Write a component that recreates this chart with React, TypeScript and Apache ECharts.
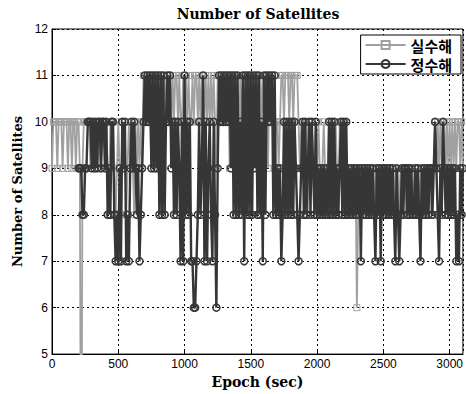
import { useEffect, useRef } from "react";
import * as echarts from "echarts";

// Epoch spacing of the samples below (seconds)
const EPOCH_STEP = 10;
const X_MAX = 3100;
const Y_MIN = 5;
const Y_MAX = 12;
const X_TICK = 500;

const SERIES_NAMES = ["실수해", "정수해"];

// 실수해 (float solution) – number of satellites, one value every 10 s (epoch 0 … 3100)
const floatSats: (number | null)[] = [
  9, 10, 10, 10, 9, 10, 10, 10, 9, 10,
  10, 10, 9, 10, 10, 9, 10, 10, 9, 10,
  10, 9, 0, 9, 10, 10, 10, 10, 10, 9,
  10, 10, 9, 10, 10, 9, 10, 9, 10, 10,
  9, 10, 9, 8, 10, 9, 10, 9, 8, 9,
  10, 9, 8, 10, 9, 10, 8, 9, 10, 9,
  10, 9, 8, 10, 9, 10, 9, 10, 9, 11,
  10, 11, 10, 11, 10, 9, 11, 10, 11, 10,
  11, 10, 9, 11, 10, 11, 10, 11, 10, 11,
  10, 11, 10, 11, 11, 10, 11, 10, 10, 11,
  10, 11, 10, 11, 10, 10, 11, 10, 11, 11,
  10, 11, 10, 11, 11, 10, 11, 10, 11, 10,
  11, 10, 11, 10, 9, 11, 10, 11, 10, 11,
  10, 11, 10, 11, 9, 11, 10, 11, 10, 11,
  10, 9, 11, 10, 11, 9, 10, 11, 10, 11,
  10, 11, 9, 10, 11, 10, 9, 11, 10, 11,
  10, 11, 10, 9, 11, 10, 11, 10, 9, 10,
  10, 9, 10, 11, 11, 10, 11, 11, 11, 10,
  11, 11, 10, 11, 11, 11, 10, 9, 10, 9,
  10, 9, 10, 8, 10, 9, 10, 9, 8, 10,
  9, 10, 9, 8, 9, 10, 9, 8, 9, 10,
  9, 8, 10, 9, 10, 9, 8, 10, 9, 10,
  9, 10, 9, 8, 9, 8, 9, 8, 8, 9,
  6, 8, 9, 8, 9, 8, 9, 8, 9, 8,
  9, 8, 9, 8, 9, 8, 9, 8, 9, 8,
  9, 8, 9, 9, 8, 9, 8, 9, 8, 9,
  8, 9, 8, 9, 8, 9, 9, 8, 9, 8,
  9, 8, 9, 8, 9, 8, 9, 8, 9, 8,
  9, 8, 9, 8, 9, 9, 8, 9, 9, 10,
  9, 10, 9, 10, 9, 10, 10, 9, 10, 9,
  10, 9, 10, 9, 10, 9, 10, 10, 9, 10,
  9,
];

// 정수해 (fixed / integer solution) – one value every 10 s, null = no fixed solution
const fixedSats: (number | null)[] = [
  null, null, null, null, null, null, null, null, null, null,
  null, null, null, null, null, null, null, null, null, null,
  9, 9, 9, 8, 8, 9, 9, 10, 10, 10,
  9, 10, 9, 10, 9, 10, 10, 9, 10, 10,
  9, 10, 8, 9, 8, 10, 10, 8, 7, 8,
  7, 9, 7, 10, 9, 10, 7, 8, 7, 9,
  10, 9, 10, 9, 8, 9, 7, 8, 9, 10,
  11, 10, 11, 10, 11, 9, 11, 9, 11, 9,
  11, 8, 11, 8, 11, 8, 10, 11, 10, 11,
  9, 10, 8, 10, 8, 10, 9, 7, 10, 7,
  11, 8, 10, 8, 10, 7, 7, 6, 6, 7,
  8, 10, 8, 9, 11, 7, 10, 7, 9, 10,
  8, 7, 10, 8, 6, 9, 11, 10, 11, 10,
  11, 10, 11, 10, 11, 9, 11, 8, 11, 8,
  11, 8, 10, 8, 11, 7, 11, 8, 11, 8,
  11, 8, 11, 9, 11, 8, 11, 8, 10, 7,
  11, 8, 11, 10, 11, 10, 11, 8, 11, 8,
  9, 8, 9, 7, 8, 10, 8, 10, 8, 10,
  8, 10, 8, 10, 9, 8, 7, 8, 9, 10,
  8, 10, 8, 9, 10, 8, 10, 9, 8, 10,
  8, 9, 8, 9, 8, 9, 8, 9, 8, 10,
  8, 10, 8, 10, 8, 9, 8, 9, 10, 8,
  10, 8, 10, 8, 9, 8, 9, 8, 9, 8,
  9, 8, 9, 7, 9, 8, 9, 8, 9, 8,
  9, 8, 9, 8, 7, 9, 8, 9, 7, 9,
  8, 9, 8, 9, 8, 9, 8, 9, 8, 7,
  9, 8, 7, 8, 9, 8, 9, 9, 8, 9,
  8, 9, 8, 8, 9, 8, 9, 8, 7, 9,
  8, 9, 8, 9, 8, 9, 9, 8, 9, 10,
  9, 8, 7, 9, 8, 10, 9, 8, 9, 8,
  9, 8, 9, 8, 9, 7, 8, 7, 9, 8,
  9,
];

const toPairs = (arr: (number | null)[]) =>
  arr.map((v, i) => [i * EPOCH_STEP, v]);

const FLOAT_COLOR = "#a0a0a0";
const FIXED_COLOR = "#363636";
const SERIF = "'DejaVu Serif', serif";
const SANS = "'Liberation Sans', Arial, sans-serif";

export default function App() {
  const ref = useRef<HTMLDivElement>(null);

  useEffect(() => {
    if (!ref.current) return;
    const chart = echarts.init(ref.current, null, { renderer: "svg" });
    chart.setOption({
      animation: false,
      backgroundColor: "#ffffff",
      title: {
        text: "Number of Satellites",
        left: 258,
        top: 7,
        textAlign: "center",
        padding: 0,
        textStyle: {
          fontFamily: SERIF,
          fontWeight: "bold",
          fontSize: 14,
          color: "#000",
        },
      },
      legend: {
        orient: "vertical",
        right: 5,
        top: 35,
        data: SERIES_NAMES,
        backgroundColor: "#ffffff",
        borderColor: "#000",
        borderWidth: 1,
        borderRadius: 0,
        padding: [2, 9, 2, 4],
        itemGap: 3,
        itemWidth: 40,
        itemHeight: 10,
        textStyle: {
          fontFamily: "'Noto Sans CJK KR', sans-serif",
          fontWeight: "bold",
          fontSize: 15,
          lineHeight: 16,
          color: "#000",
        },
      },
      grid: {
        left: 52,
        right: 1,
        top: 29,
        bottom: 39,
        show: true,
        borderColor: "#000",
        borderWidth: 1,
        backgroundColor: "#fff",
      },
      xAxis: {
        type: "value",
        min: 0,
        max: X_MAX,
        interval: X_TICK,
        name: "Epoch (sec)",
        nameLocation: "middle",
        nameGap: 20,
        nameTextStyle: {
          fontFamily: SERIF,
          fontWeight: "bold",
          fontSize: 14,
          color: "#000",
        },
        axisLine: { show: true, lineStyle: { color: "#000", width: 1 } },
        axisTick: { show: true, inside: true, length: 4, lineStyle: { color: "#000" } },
        axisLabel: {
          showMaxLabel: false,
          margin: 4,
          fontFamily: SANS,
          fontSize: 12,
          color: "#000",
          formatter: (v: number) => String(v),
        },
        splitLine: {
          show: true,
          lineStyle: { color: "#000", type: [2, 3], width: 1 },
        },
      },
      yAxis: {
        type: "value",
        min: Y_MIN,
        max: Y_MAX,
        interval: 1,
        name: "Number of Satellites",
        nameLocation: "middle",
        nameGap: 21,
        nameTextStyle: {
          fontFamily: SERIF,
          fontWeight: "bold",
          fontSize: 13,
          color: "#000",
        },
        axisLine: { show: true, lineStyle: { color: "#000", width: 1 } },
        axisTick: { show: true, inside: true, length: 4, lineStyle: { color: "#000" } },
        axisLabel: {
          margin: 4,
          fontFamily: SANS,
          fontSize: 12,
          color: "#000",
          formatter: (v: number) => String(v),
        },
        splitLine: {
          show: true,
          lineStyle: { color: "#000", type: [2, 3], width: 1 },
        },
      },
      series: [
        {
          name: SERIES_NAMES[0],
          type: "line",
          data: toPairs(floatSats),
          symbol: "rect",
          symbolSize: 6,
          showSymbol: true,
          clip: true,
          connectNulls: false,
          z: 2,
          lineStyle: { color: FLOAT_COLOR, width: 1.8 },
          itemStyle: {
            color: "rgba(255,255,255,0)",
            borderColor: FLOAT_COLOR,
            borderWidth: 1,
          },
          emphasis: { disabled: true },
        },
        {
          name: SERIES_NAMES[1],
          type: "line",
          data: toPairs(fixedSats),
          symbol: "circle",
          symbolSize: 7,
          showSymbol: true,
          clip: true,
          connectNulls: false,
          z: 3,
          lineStyle: { color: FIXED_COLOR, width: 2.4 },
          itemStyle: {
            color: "rgba(255,255,255,0)",
            borderColor: FIXED_COLOR,
            borderWidth: 1.5,
          },
          emphasis: { disabled: true },
        },
      ],
    });
    return () => chart.dispose();
  }, []);

  return (
    <div
      ref={ref}
      style={{ position: "absolute", left: 0, top: 0, width: 466, height: 394 }}
    />
  );
}
